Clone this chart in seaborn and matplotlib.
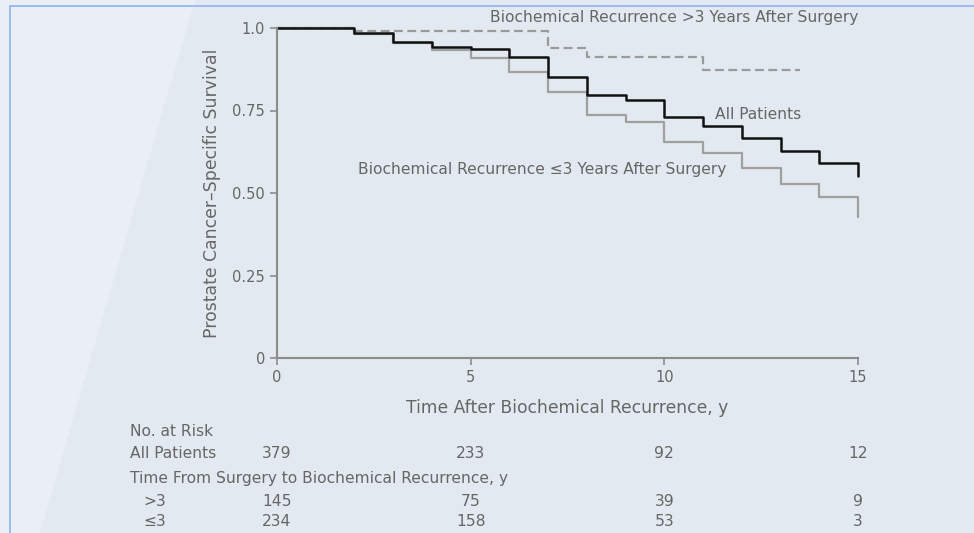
import matplotlib
matplotlib.use("Agg")
import matplotlib.pyplot as plt
import matplotlib.transforms as mtransforms
from matplotlib.patches import Rectangle, Polygon
import seaborn as sns
import pandas as pd

# survival estimates (step at each year)
years = [0, 2, 3, 4, 5, 6, 7, 8, 9, 10, 11, 12, 13, 14, 15]
all_patients = [1.0, 0.985, 0.958, 0.942, 0.935, 0.912, 0.852, 0.797, 0.782,
                0.730, 0.703, 0.667, 0.627, 0.590, 0.550]
le3_years = [1.0, 0.982, 0.955, 0.933, 0.909, 0.867, 0.806, 0.736, 0.715,
             0.655, 0.620, 0.576, 0.527, 0.488, 0.427]
gt3_times = [0, 2, 7, 8, 11, 13.5]
gt3_years = [1.0, 0.992, 0.940, 0.912, 0.873, 0.873]

xticks = [0, 5, 10, 15]
yticks = [0, 0.25, 0.50, 0.75, 1.0]
ytick_labels = ["0", "0.25", "0.50", "0.75", "1.0"]

risk_all = [379, 233, 92, 12]
risk_gt3 = [145, 75, 39, 9]
risk_le3 = [234, 158, 53, 3]

bg = "#e3e9f0"
txt = "#666666"
W, H = 974, 533
fs = 11.2

sns.set_theme(style="ticks")
plt.rcParams["font.family"] = ["DejaVu Sans"]

fig = plt.figure(figsize=(W / 100, H / 100), dpi=100, facecolor=bg)
ax = fig.add_axes([277 / W, 1 - 358 / H, (858 - 277) / W, (358 - 28) / H])
ax.set_facecolor(bg)

# faint lighter band on the left and thin blue frame
fig.patches.append(Polygon([(0, 1), (195 / W, 1), (40 / W, 0), (0, 0)],
                           closed=True, transform=fig.transFigure,
                           facecolor="#eaeef5", edgecolor="none", zorder=-1))
fig.patches.append(Rectangle((10 / W, -0.1), 1.1, 1 - 6 / H + 0.1,
                             transform=fig.transFigure, fill=False,
                             edgecolor="#8fb2ee", linewidth=1.2))

df_all = pd.DataFrame({"t": years, "s": all_patients})
df_le3 = pd.DataFrame({"t": years, "s": le3_years})
df_gt3 = pd.DataFrame({"t": gt3_times, "s": gt3_years})

sns.lineplot(data=df_le3, x="t", y="s", ax=ax, drawstyle="steps-post",
             color="#a0a0a0", linewidth=1.6, clip_on=False)
sns.lineplot(data=df_gt3, x="t", y="s", ax=ax, drawstyle="steps-post",
             color="#9a9a9a", linewidth=1.6, linestyle=(0, (4, 2)), clip_on=False)
sns.lineplot(data=df_all, x="t", y="s", ax=ax, drawstyle="steps-post",
             color="#111111", linewidth=1.8, clip_on=False)

ax.set_xlim(0, 15)
ax.set_ylim(0, 1)
ax.set_xticks(xticks)
ax.set_yticks(yticks)
ax.set_yticklabels(ytick_labels)
sns.despine(ax=ax)
for side in ["left", "bottom"]:
    ax.spines[side].set_color("#8c8c8c")
    ax.spines[side].set_linewidth(1.5)
ax.tick_params(colors="#8c8c8c", labelcolor=txt, labelsize=10.5, length=5, width=1.2)
ax.set_xlabel("Time After Biochemical Recurrence, y", color=txt, fontsize=12.3, labelpad=10)
ax.set_ylabel("Prostate Cancer–Specific Survival", color=txt, fontsize=12.4, labelpad=8)

ax.text(15, 1.033, "Biochemical Recurrence >3 Years After Surgery", ha="right",
        va="center", color=txt, fontsize=fs, clip_on=False)
ax.text(11.3, 0.739, "All Patients", ha="left", va="center", color=txt, fontsize=fs)
ax.text(2.09, 0.57, "Biochemical Recurrence ≤3 Years After Surgery", ha="left",
        va="center", color=txt, fontsize=fs)

# number-at-risk table
blend = mtransforms.blended_transform_factory(ax.transData, fig.transFigure)
fy = lambda py: 1 - py / H
fig.text(130 / W, fy(432), "No. at Risk", ha="left", va="center", color=txt, fontsize=fs)
fig.text(130 / W, fy(453), "All Patients", ha="left", va="center", color=txt, fontsize=fs)
fig.text(130 / W, fy(479), "Time From Surgery to Biochemical Recurrence, y", ha="left",
         va="center", color=txt, fontsize=fs)
fig.text(143 / W, fy(502), ">3", ha="left", va="center", color=txt, fontsize=fs)
fig.text(143 / W, fy(522), "≤3", ha="left", va="center", color=txt, fontsize=fs)
for row, py in [(risk_all, 453), (risk_gt3, 502), (risk_le3, 522)]:
    for xv, n in zip(xticks, row):
        ax.text(xv, fy(py), str(n), transform=blend, ha="center", va="center",
                color=txt, fontsize=fs, clip_on=False)

fig.savefig("out.png", dpi=100, facecolor=bg)
